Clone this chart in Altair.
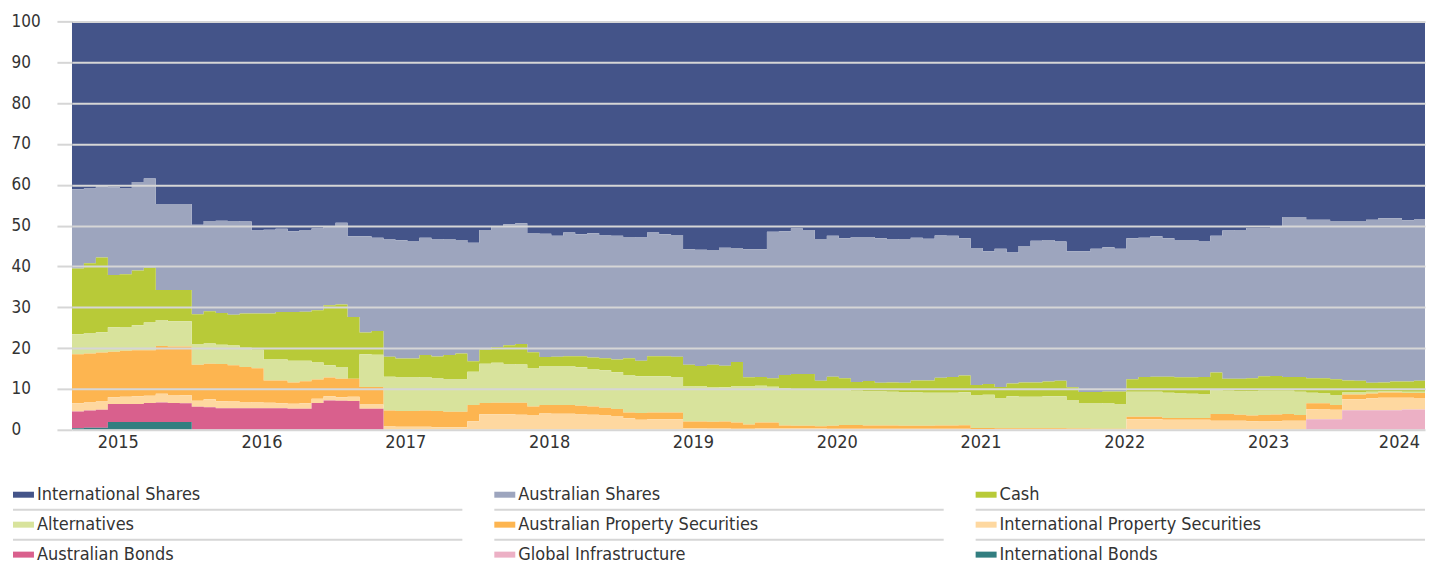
import altair as alt
import pandas as pd

FONT = "DejaVu Sans Condensed, Roboto, sans-serif"
GRID = "#d6d6d6"
TEXT = "#333333"

# ---- series (top of stack first, legend order) ----
SERIES = [
    "International Shares", "Australian Shares", "Cash",
    "Alternatives", "Australian Property Securities", "International Property Securities",
    "Australian Bonds", "Global Infrastructure", "International Bonds",
]
COLORS = [
    "#445489", "#9da5be", "#b8ca38",
    "#d8e39c", "#fdb550", "#fed8a0",
    "#d9608d", "#ecb0c5", "#327e80",
]

# ---- monthly allocation (%), month index 0..113 ----
intl_shares = [
    41.1, 40.9, 40.4, 40.6, 40.8, 39.3, 38.5, 44.7, 44.7, 44.7,
    49.8, 48.9, 48.8, 48.9, 49.0, 51.2, 51.0, 50.8, 51.4, 51.1,
    50.7, 50.1, 49.3, 52.6, 52.6, 53.0, 53.4, 53.6, 53.8, 53.0,
    53.4, 53.3, 53.5, 54.2, 51.1, 50.3, 49.7, 49.4, 51.8, 52.0,
    52.5, 51.7, 52.1, 51.9, 52.4, 52.5, 52.8, 52.9, 51.7, 52.1,
    52.3, 55.8, 55.9, 56.0, 55.4, 55.5, 55.8, 55.8, 51.5, 51.4,
    50.7, 51.1, 53.3, 52.5, 53.1, 52.8, 52.8, 53.1, 53.4, 53.3,
    53.0, 53.2, 52.4, 52.5, 53.1, 55.5, 56.3, 55.7, 56.6, 55.0,
    53.7, 53.5, 53.9, 56.3, 56.3, 55.7, 55.3, 55.7, 53.1, 53.0,
    52.6, 53.1, 53.5, 53.5, 53.8, 52.5, 51.2, 51.1, 50.6, 50.6,
    50.4, 47.9, 47.9, 48.6, 48.6, 48.9, 48.9, 48.9, 48.6, 48.2,
    48.2, 48.7, 48.5, 49.2,
]
aus_shares = [
    19.4, 18.3, 17.4, 21.5, 21.1, 21.7, 21.8, 21.1, 21.1, 21.1,
    21.9, 22.1, 22.6, 22.9, 22.5, 20.3, 20.5, 20.35, 19.75, 20.0,
    20.0, 19.4, 20.0, 19.8, 23.6, 22.8, 28.7, 28.95, 28.75, 28.7,
    28.65, 28.4, 27.8, 29.0, 29.3, 29.4, 29.6, 29.6, 29.2, 30.2,
    29.6, 30.3, 29.9, 30.4, 30.1, 30.3, 29.7, 30.2, 30.3, 29.9,
    29.8, 28.3, 28.5, 28.1, 28.9, 27.9, 31.35, 31.3, 35.9, 35.2,
    35.65, 35.25, 34.7, 34.5, 34.3, 35.5, 35.25, 35.4, 35.0, 35.2,
    34.9, 34.7, 34.85, 34.6, 33.6, 33.55, 32.5, 33.85, 32.05, 33.4,
    34.7, 34.65, 34.1, 33.3, 34.45, 35.05, 35.3, 34.9, 34.5, 34.1,
    34.4, 33.9, 33.65, 33.65, 33.3, 33.45, 36.3, 36.4, 36.8, 36.3,
    36.45, 39.2, 39.2, 38.8, 38.8, 38.7, 39.0, 39.1, 39.9, 40.2,
    40.0, 39.45, 39.5, 39.2,
]
cash = [
    16.1, 17.1, 18.3, 12.8, 12.9, 13.4, 13.4, 7.3, 7.6, 7.6,
    7.3, 7.9, 7.8, 7.55, 8.4, 8.9, 11.3, 11.65, 11.95, 12.0,
    12.8, 14.7, 15.3, 15.1, 5.3, 5.8, 4.9, 4.65, 4.65, 5.4,
    5.4, 5.85, 6.25, 2.6, 3.4, 3.9, 4.6, 5.0, 4.0, 2.2,
    2.3, 2.4, 2.7, 2.8, 2.9, 3.1, 4.1, 3.8, 4.9, 4.9,
    5.0, 5.2, 5.0, 5.4, 5.3, 6.0, 2.25, 2.1, 2.05, 3.3,
    3.65, 3.75, 2.1, 3.2, 2.8, 2.15, 2.55, 2.1, 2.3, 2.25,
    2.95, 3.0, 3.65, 3.8, 4.1, 2.45, 2.6, 2.65, 3.15, 3.5,
    3.5, 3.65, 3.8, 3.1, 2.7, 2.7, 2.95, 3.1, 3.1, 3.6,
    3.7, 3.9, 3.95, 4.0, 4.15, 4.25, 2.95, 3.0, 3.2, 3.55,
    3.6, 3.35, 3.6, 3.55, 3.7, 3.9, 2.95, 2.85, 2.2, 2.2,
    2.4, 2.55, 2.7, 2.8,
]
alternatives = [
    4.9, 5.0, 5.0, 6.0, 5.85, 6.1, 6.8, 6.4, 6.2, 6.2,
    5.1, 4.9, 4.7, 4.85, 4.7, 4.5, 5.1, 5.1, 5.3, 5.0,
    4.2, 3.0, 2.9, 0.0, 8.0, 7.9, 8.25, 8.2, 8.2, 8.15,
    7.95, 8.05, 8.05, 8.1, 9.65, 9.8, 9.5, 9.4, 9.3, 9.55,
    9.55, 9.55, 9.4, 9.2, 9.2, 9.0, 9.15, 9.0, 8.85, 8.85,
    8.65, 8.65, 8.55, 8.55, 8.35, 8.8, 9.3, 9.0, 8.75, 9.05,
    9.0, 8.9, 9.0, 8.8, 8.65, 8.4, 8.35, 8.35, 8.25, 8.25,
    8.15, 8.1, 8.05, 8.05, 8.1, 8.05, 8.15, 7.4, 7.8, 7.7,
    7.7, 7.85, 7.85, 7.0, 6.25, 6.3, 6.2, 6.05, 6.1, 6.1,
    6.1, 6.2, 6.0, 5.95, 5.85, 5.95, 5.7, 5.8, 5.9, 5.95,
    5.8, 5.7, 5.7, 2.55, 2.4, 2.4, 0.5, 0.5, 0.4, 0.25,
    0.25, 0.3, 0.3, 0.3,
]
aus_property = [
    12.0, 12.0, 11.95, 11.1, 11.25, 11.3, 11.15, 11.7, 11.9, 11.95,
    8.8, 8.75, 9.1, 8.9, 8.6, 8.4, 5.5, 5.6, 5.2, 5.4,
    4.7, 4.6, 4.55, 4.4, 4.3, 4.3, 3.95, 3.85, 3.85, 4.0,
    3.95, 3.8, 3.8, 4.0, 2.75, 2.8, 2.8, 2.9, 2.1, 2.05,
    2.15, 2.15, 2.15, 2.0, 1.9, 1.7, 1.45, 1.65, 1.65, 1.65,
    1.65, 1.65, 1.65, 1.65, 1.75, 1.55, 1.05, 1.5, 1.5, 0.75,
    0.7, 0.7, 0.6, 0.75, 0.9, 0.9, 0.8, 0.8, 0.8, 0.75,
    0.75, 0.75, 0.8, 0.8, 0.85, 0.3, 0.3, 0.25, 0.25, 0.25,
    0.25, 0.2, 0.2, 0.2, 0.2, 0.15, 0.15, 0.15, 0.6, 0.6,
    0.6, 0.45, 0.45, 0.45, 0.45, 1.65, 1.65, 1.5, 1.4, 1.55,
    1.65, 1.65, 1.4, 1.45, 1.5, 1.2, 1.15, 1.15, 1.2, 1.3,
    1.3, 1.15, 1.2, 1.15,
]
intl_property = [
    2.0, 1.95, 2.05, 1.7, 1.8, 1.9, 1.8, 2.1, 1.95, 1.95,
    1.45, 1.95, 1.7, 1.6, 1.5, 1.4, 1.3, 1.2, 1.25, 1.35,
    1.05, 1.0, 0.85, 1.05, 1.05, 1.05, 0.8, 0.75, 0.75, 0.75,
    0.65, 0.6, 0.6, 2.1, 3.8, 3.8, 3.8, 3.7, 3.6, 4.0,
    3.9, 3.9, 3.75, 3.7, 3.5, 3.4, 2.8, 2.45, 2.6, 2.6,
    2.6, 0.4, 0.4, 0.3, 0.3, 0.25, 0.25, 0.3, 0.3, 0.3,
    0.3, 0.3, 0.3, 0.25, 0.25, 0.25, 0.25, 0.25, 0.25, 0.25,
    0.25, 0.25, 0.25, 0.25, 0.25, 0.15, 0.15, 0.15, 0.15, 0.15,
    0.15, 0.15, 0.15, 0.1, 0.1, 0.1, 0.1, 0.1, 2.6, 2.6,
    2.6, 2.45, 2.45, 2.45, 2.45, 2.2, 2.2, 2.2, 2.1, 2.05,
    2.1, 2.2, 2.2, 2.45, 2.4, 2.3, 2.7, 2.7, 2.9, 3.05,
    3.05, 2.85, 2.8, 2.55,
]
aus_bonds = [
    4.1, 4.25, 4.4, 4.4, 4.4, 4.4, 4.65, 4.8, 4.65, 4.6,
    5.65, 5.5, 5.3, 5.3, 5.3, 5.3, 5.3, 5.3, 5.15, 5.15,
    6.55, 7.2, 7.1, 7.05, 5.15, 5.15,
] + [0.0] * 88
global_infra = [0.0] * 103 + [
    2.6, 2.6, 2.6, 4.8, 4.8, 4.8, 4.8, 4.8, 5.0, 5.0, 4.8,
]
intl_bonds = [0.4, 0.5, 0.5, 1.9, 1.9, 1.9, 1.9, 1.9, 1.9, 1.9] + [0.0] * 104

VALUES = [intl_shares, aus_shares, cash, alternatives, aus_property,
          intl_property, aus_bonds, global_infra, intl_bonds]

# ---- x axis: year gridlines / labels (month index) ----
YEAR_LABELS = ["2015", "2016", "2017", "2018", "2019", "2020", "2021", "2022", "2023", "2024"]
YEAR_MONTH = [6, 18, 30, 42, 54, 66, 78, 90, 102, 114]

W, H = 1355, 409
X_END = W / 12.0  # 12 px per month

rows = []
n_series = len(SERIES)
for k, (name, vals) in enumerate(zip(SERIES, VALUES)):
    # repeat last value so the final step reaches the right edge
    for m, v in enumerate(vals + [vals[-1]]):
        rows.append({"m": m, "series": name, "v": v, "stack": n_series - 1 - k})
df = pd.DataFrame(rows)

color_scale = alt.Scale(domain=SERIES, range=COLORS)
x_scale = alt.Scale(domain=[0, X_END], nice=False, zero=False, clamp=True)

area = alt.Chart(df).mark_area(interpolate="step-after", clip=True).encode(
    x=alt.X(
        "m:Q",
        scale=x_scale,
        axis=alt.Axis(
            values=[0] + YEAR_MONTH[:-1], labels=False, title=None, domain=False,
            grid=True, gridColor=GRID, gridWidth=2,
            ticks=True, tickColor=GRID, tickSize=14, tickWidth=2, zindex=1,
        ),
    ),
    y=alt.Y(
        "v:Q", stack="zero",
        scale=alt.Scale(domain=[0, 100], nice=False),
        axis=alt.Axis(
            values=list(range(0, 101, 10)), title=None, domain=False,
            grid=True, gridColor=GRID, gridWidth=2,
            ticks=True, tickColor=GRID, tickSize=15, tickWidth=2,
            labelAlign="left", labelPadding=46, labelFont=FONT,
            labelFontSize=17, labelColor=TEXT, zindex=1,
        ),
    ),
    color=alt.Color("series:N", scale=color_scale, legend=None),
    order=alt.Order("stack:Q", sort="ascending"),
)

year_df = pd.DataFrame({"m": YEAR_MONTH, "label": YEAR_LABELS})
year_text = alt.Chart(year_df).mark_text(
    align="right", baseline="middle", dx=-5, font=FONT, fontSize=18, color=TEXT
).encode(
    x=alt.X("m:Q", axis=None),
    y=alt.value(H + 13),
    text="label:N",
)

main = alt.layer(area, year_text).properties(width=W, height=H)

# ---- legend (3 columns with separators) ----
leg_df = pd.DataFrame({"series": SERIES})
leg_df["col"] = leg_df.index % 3
leg_df["row"] = leg_df.index // 3

lx = alt.Scale(domain=[0, 3], range=[-61, 1385])
ly = alt.Scale(domain=[-0.5, 2.5], range=[0, 90])

leg_base = alt.Chart(leg_df)
leg_sym = leg_base.mark_rule(strokeWidth=6, xOffset=2, x2Offset=23).encode(
    x=alt.X("col:Q", scale=lx, axis=None),
    x2="col:Q",
    y=alt.Y("row:Q", scale=ly, axis=None),
    color=alt.Color("series:N", scale=color_scale, legend=None),
)
leg_txt = leg_base.mark_text(
    align="left", baseline="middle", dx=26, font=FONT, fontSize=18, color=TEXT
).encode(
    x=alt.X("col:Q", scale=lx, axis=None),
    y=alt.Y("row:Q", scale=ly, axis=None),
    text="series:N",
)
leg_sep = leg_base.transform_filter("datum.row < 2").mark_rule(
    strokeWidth=2, color=GRID, xOffset=2, x2Offset=452, yOffset=15, y2Offset=15
).encode(
    x=alt.X("col:Q", scale=lx, axis=None),
    x2="col:Q",
    y=alt.Y("row:Q", scale=ly, axis=None),
)
legend = alt.layer(leg_sep, leg_sym, leg_txt).properties(width=W, height=90)

chart = alt.vconcat(main, legend, spacing=28).properties(
    padding={"left": 2, "top": 4, "right": 0, "bottom": 0}
).configure(font=FONT).configure_view(stroke=None)

chart.save("out.html", embed_options={"renderer": "svg", "actions": False})
